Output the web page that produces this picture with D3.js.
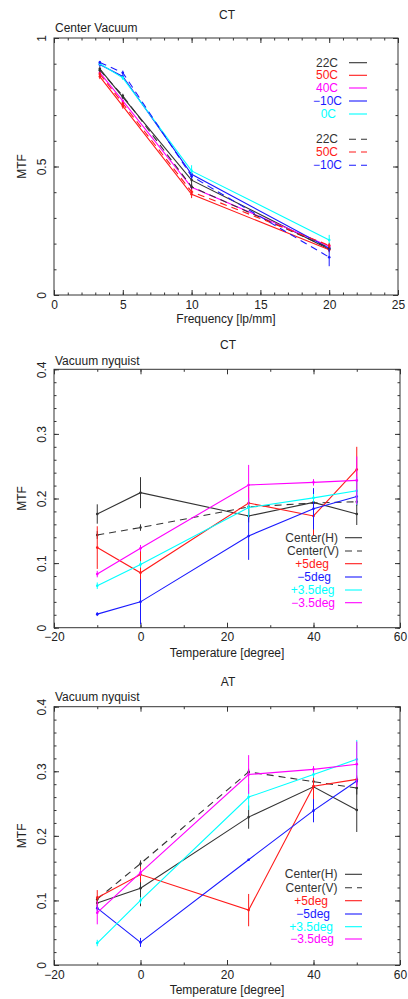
<!DOCTYPE html>
<html>
<head>
<meta charset="utf-8">
<script src="https://cdn.jsdelivr.net/npm/d3@7"></script>
<style>
  body { margin: 0; background: #fff; }
  text { font-family: "Liberation Sans", Arial, sans-serif; }
</style>
</head>
<body>
<svg id="chart" width="408" height="999"></svg>
<script>
// ---- data: top panel (MTF vs frequency) ----
const freq = [3.33, 5, 10, 20];
const ct22 = [0.88, 0.77, 0.447, 0.178];
const ct50 = [0.85, 0.735, 0.392, 0.176];
const ct40 = [0.865, 0.755, 0.419, 0.19];
const ctM10 = [0.897, 0.85, 0.47, 0.182];
const ct0 = [0.9, 0.845, 0.483, 0.214];
const ct22d = [0.875, 0.775, 0.421, 0.183];
const ct50d = [0.86, 0.745, 0.402, 0.193];
const ctM10d = [0.905, 0.865, 0.462, 0.147];
const ct22Err = [0.01, 0.008, 0.035, 0.01];
const ct50Err = [0.01, 0.01, 0.015, 0.01];
const ct40Err = [0.008, 0.005, 0.01, 0.01];
const ctM10Err = [0.008, 0.008, 0.012, 0.01];
const ct0Err = [0.006, 0.008, 0.022, 0.02];
const ct22dErr = [0.008, 0.008, 0.01, 0.01];
const ct50dErr = [0.008, 0.008, 0.01, 0.01];
const ctM10dErr = [0.006, 0.008, 0.01, 0.035];
const freqTicks = [0, 5, 10, 15, 20, 25];
const mtfTicks = [0, 0.5, 1];

// ---- data: middle and bottom panels (MTF vs temperature) ----
const temps = [-10, 0, 25, 40, 50];
const tempTicks = [-20, 0, 20, 40, 60];
const nyqTicks = [0, 0.1, 0.2, 0.3, 0.4];

const ctH = [0.176, 0.209, 0.173, 0.194, 0.176];
const ctV = [0.1435, 0.155, 0.187, 0.193, 0.195];
const ctP5 = [0.124, 0.085, 0.193, 0.173, 0.245];
const ctM5 = [0.021, 0.04, 0.142, 0.184, 0.203];
const ctP35 = [0.065, 0.098, 0.186, 0.201, 0.212];
const ctM35 = [0.083, 0.123, 0.221, 0.225, 0.228];
const ctHErr = [0.015, 0.024, 0.01, 0.008, 0.017];
const ctVErr = [0.006, 0.005, 0.008, 0.006, 0.006];
const ctP5Err = [0.033, 0.043, 0.025, 0.03, 0.035];
const ctM5Err = [0.003, 0.035, 0.037, 0.032, 0.01];
const ctP35Err = [0.005, 0.005, 0.015, 0.006, 0.022];
const ctM35Err = [0.005, 0.005, 0.031, 0.005, 0.037];

const atH = [0.096, 0.119, 0.229, 0.276, 0.24];
const atV = [0.102, 0.157, 0.299, 0.284, 0.274];
const atP5 = [0.104, 0.14, 0.085, 0.277, 0.2875];
const atM5 = [0.088, 0.035, 0.163, 0.239, 0.285];
const atP35 = [0.034, 0.1, 0.26, 0.295, 0.3185];
const atM35 = [0.081, 0.143, 0.295, 0.303, 0.311];
const atHErr = [0.008, 0.028, 0.018, 0.01, 0.034];
const atVErr = [0.005, 0.005, 0.005, 0.008, 0.01];
const atP5Err = [0.012, 0.012, 0.025, 0.02, 0.006];
const atM5Err = [0.005, 0.007, 0.0, 0.018, 0.006];
const atP35Err = [0.005, 0.005, 0.02, 0.005, 0.03];
const atM35Err = [0.018, 0.005, 0.03, 0.005, 0.035];

const BLACK = "#333", RED = "#ff1a1a", MAGENTA = "#ff00ff", BLUE = "#1a1aff", CYAN = "#00ffff";

const svg = d3.select("#chart");

function fmtTick(d) {
  return String(d).replace("-", "\u2212");
}

function drawPanel(p) {
  const g = svg.append("g");
  const x = d3.scaleLinear().domain(p.xDomain).range([p.left, p.right]);
  const y = d3.scaleLinear().domain(p.yDomain).range([p.bottom, p.top]);

  // minor ticks on all four sides
  const minorX = d3.range(p.xDomain[0], p.xDomain[1] + 1e-9, p.xMinor);
  const minorY = d3.range(p.yDomain[0], p.yDomain[1] + 1e-9, p.yMinor);
  [[d3.axisBottom(x), p.bottom], [d3.axisTop(x), p.top]].forEach(([ax, pos]) => {
    g.append("g").attr("transform", `translate(0,${pos})`)
      .call(ax.tickValues(minorX).tickSize(-2.5).tickFormat(""))
      .call(s => s.select(".domain").remove());
  });
  [[d3.axisLeft(y), p.left], [d3.axisRight(y), p.right]].forEach(([ax, pos]) => {
    g.append("g").attr("transform", `translate(${pos},0)`)
      .call(ax.tickValues(minorY).tickSize(-2.5).tickFormat(""))
      .call(s => s.select(".domain").remove());
  });

  // major ticks + labels
  g.append("g").attr("transform", `translate(0,${p.bottom})`)
    .call(d3.axisBottom(x).tickValues(p.xTicks).tickSize(-5).tickPadding(5).tickFormat(fmtTick))
    .call(s => s.select(".domain").remove())
    .call(s => s.selectAll("text").attr("font-size", 12).attr("fill", "#222"));
  g.append("g").attr("transform", `translate(0,${p.top})`)
    .call(d3.axisTop(x).tickValues(p.xTicks).tickSize(-5).tickFormat(""))
    .call(s => s.select(".domain").remove());
  g.append("g").attr("transform", `translate(${p.left},0)`)
    .call(d3.axisLeft(y).tickValues(p.yTicks).tickSize(-5).tickFormat(d => String(d)))
    .call(s => s.select(".domain").remove())
    .call(s => s.selectAll("text")
      .attr("x", null).attr("dy", null)
      .attr("transform", "translate(-8,0) rotate(-90)")
      .attr("text-anchor", "middle")
      .attr("font-size", 12).attr("fill", "#222"));
  g.append("g").attr("transform", `translate(${p.right},0)`)
    .call(d3.axisRight(y).tickValues(p.yTicks).tickSize(-5).tickFormat(""))
    .call(s => s.select(".domain").remove());
  g.selectAll(".tick line").attr("stroke", "#333");

  // frame
  g.append("rect")
    .attr("x", p.left).attr("y", p.top)
    .attr("width", p.right - p.left).attr("height", p.bottom - p.top)
    .attr("fill", "none").attr("stroke", "#333").attr("stroke-width", 1);

  // titles
  g.append("text").attr("x", (p.left + p.right) / 2 + 1).attr("y", p.titleY)
    .attr("text-anchor", "middle").attr("font-size", 12).attr("fill", "#222").text(p.title);
  g.append("text").attr("x", p.left + 1).attr("y", p.subY)
    .attr("font-size", 12).attr("fill", "#222").text(p.subtitle);
  g.append("text").attr("x", (p.left + p.right) / 2).attr("y", p.xLabelY)
    .attr("text-anchor", "middle").attr("font-size", 12).attr("fill", "#222").text(p.xLabel);
  g.append("text")
    .attr("transform", `translate(26,${(p.top + p.bottom) / 2}) rotate(-90)`)
    .attr("text-anchor", "middle").attr("font-size", 12).attr("fill", "#222").text("MTF");

  // series
  const line = d3.line().x(d => x(d[0])).y(d => y(d[1]));
  p.series.forEach(s => {
    const pts = p.xs.map((xv, i) => [xv, s.values[i], s.err[i]]);
    const sg = g.append("g");
    sg.selectAll("line.err").data(pts).join("line").attr("class", "err")
      .attr("x1", d => x(d[0])).attr("x2", d => x(d[0]))
      .attr("y1", d => y(d[1] - d[2])).attr("y2", d => y(d[1] + d[2]))
      .attr("stroke", s.color).attr("stroke-width", 1);
    sg.append("path").datum(pts).attr("d", line)
      .attr("fill", "none").attr("stroke", s.color).attr("stroke-width", 1.1)
      .attr("stroke-dasharray", s.dash ? "7,5" : null);
    sg.selectAll("circle").data(pts).join("circle")
      .attr("cx", d => x(d[0])).attr("cy", d => y(d[1])).attr("r", 1.3)
      .attr("fill", s.color);
  });

  // legend
  p.series.forEach((s, i) => {
    const ly = p.legendY[i];
    g.append("text").attr("x", p.legendTextX[i]).attr("y", ly + 4)
      .attr("text-anchor", "end").attr("font-size", 12).attr("fill", s.color).text(s.name);
    g.append("line").attr("x1", p.legendLine[0]).attr("x2", p.legendLine[1])
      .attr("y1", ly).attr("y2", ly)
      .attr("stroke", s.color).attr("stroke-width", 1.1)
      .attr("stroke-dasharray", s.dash ? "7,5" : null);
  });
}

drawPanel({
  left: 54, right: 398, top: 38, bottom: 295,
  xDomain: [0, 25], yDomain: [0, 1], xTicks: freqTicks, yTicks: mtfTicks,
  xMinor: 1, yMinor: 0.1,
  title: "CT", titleY: 19, subtitle: "Center Vacuum", subY: 32,
  xLabel: "Frequency [lp/mm]", xLabelY: 323,
  xs: freq,
  series: [
    {name: "22C", values: ct22, err: ct22Err, color: BLACK},
    {name: "50C", values: ct50, err: ct50Err, color: RED},
    {name: "40C", values: ct40, err: ct40Err, color: MAGENTA},
    {name: "\u221210C", values: ctM10, err: ctM10Err, color: BLUE},
    {name: "0C", values: ct0, err: ct0Err, color: CYAN},
    {name: "22C", values: ct22d, err: ct22dErr, color: BLACK, dash: true},
    {name: "50C", values: ct50d, err: ct50dErr, color: RED, dash: true},
    {name: "\u221210C", values: ctM10d, err: ctM10dErr, color: BLUE, dash: true}
  ],
  legendY: [62.7, 75.3, 88, 101, 114, 139.3, 152, 165.3],
  legendTextX: [338, 338, 338, 342, 336, 338, 338, 342], legendLine: [349, 367]
});

drawPanel({
  left: 54, right: 400, top: 369.3, bottom: 627.7,
  xDomain: [-20, 60], yDomain: [0, 0.4], xTicks: tempTicks, yTicks: nyqTicks,
  xMinor: 10, yMinor: 0.02,
  title: "CT", titleY: 349, subtitle: "Vacuum nyquist", subY: 365,
  xLabel: "Temperature [degree]", xLabelY: 657,
  xs: temps,
  series: [
    {name: "Center(H)", values: ctH, err: ctHErr, color: BLACK},
    {name: "Center(V)", values: ctV, err: ctVErr, color: BLACK, dash: true},
    {name: "+5deg", values: ctP5, err: ctP5Err, color: RED},
    {name: "\u22125deg", values: ctM5, err: ctM5Err, color: BLUE},
    {name: "+3.5deg", values: ctP35, err: ctP35Err, color: CYAN},
    {name: "\u22123.5deg", values: ctM35, err: ctM35Err, color: MAGENTA}
  ],
  legendY: [537.7, 551, 563.7, 577, 590, 602.7],
  legendTextX: [338, 339, 329, 331, 334.5, 335], legendLine: [345, 362]
});

drawPanel({
  left: 54, right: 400, top: 706.7, bottom: 965,
  xDomain: [-20, 60], yDomain: [0, 0.4], xTicks: tempTicks, yTicks: nyqTicks,
  xMinor: 10, yMinor: 0.02,
  title: "AT", titleY: 686, subtitle: "Vacuum nyquist", subY: 701,
  xLabel: "Temperature [degree]", xLabelY: 994,
  xs: temps,
  series: [
    {name: "Center(H)", values: atH, err: atHErr, color: BLACK},
    {name: "Center(V)", values: atV, err: atVErr, color: BLACK, dash: true},
    {name: "+5deg", values: atP5, err: atP5Err, color: RED},
    {name: "\u22125deg", values: atM5, err: atM5Err, color: BLUE},
    {name: "+3.5deg", values: atP35, err: atP35Err, color: CYAN},
    {name: "\u22123.5deg", values: atM35, err: atM35Err, color: MAGENTA}
  ],
  legendY: [874.3, 887.7, 900.7, 914, 926.7, 939],
  legendTextX: [337.5, 337.5, 328, 330, 333, 334], legendLine: [345, 362]
});
</script>
</body>
</html>
